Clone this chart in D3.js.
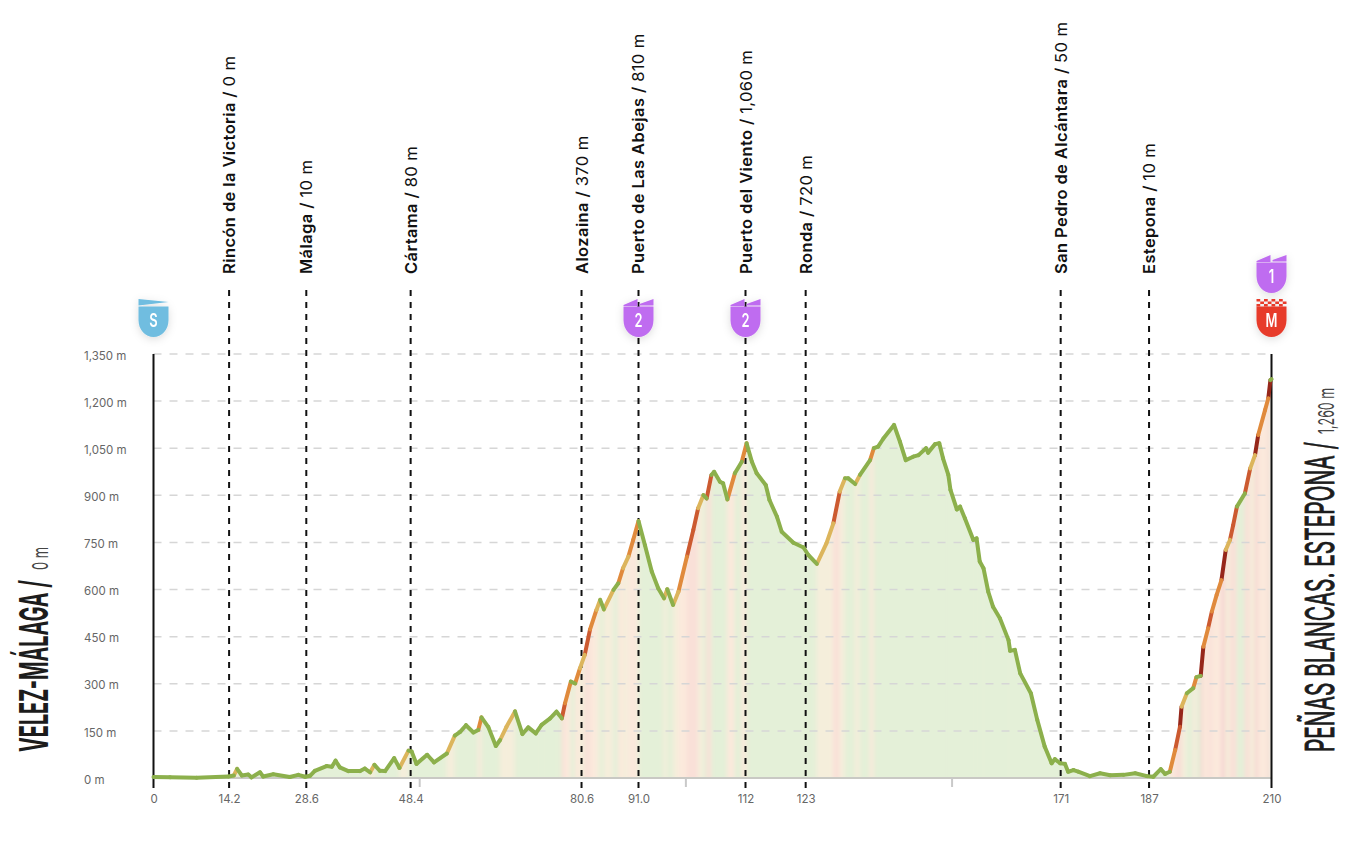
<!DOCTYPE html>
<html>
<head>
<meta charset="utf-8">
<script src="https://cdn.jsdelivr.net/npm/d3@7"></script>
<style>
  html, body { margin: 0; padding: 0; background: #fff; }
  svg { display: block; }
  text { font-family: Inter, sans-serif; }
</style>
</head>
<body>
<svg id="chart"></svg>
<script>
const kms = [
  0, 3.1, 8.1, 14.1, 15.1, 15.7, 16.6, 17.8, 18.4, 20.0,
  20.6, 22.5, 25.6, 27.2, 28.5, 29.4, 30.3, 32.5, 33.5, 34.2,
  35.0, 36.6, 38.8, 39.7, 40.7, 41.5, 42.5, 43.5, 45.2, 46.2,
  47.9, 48.5, 49.4, 51.4, 52.7, 55.1, 56.6, 57.6, 58.7, 60.1,
  61.0, 61.6, 62.9, 64.3, 65.1, 66.3, 67.9, 69.3, 70.4, 71.8,
  72.9, 74.5, 75.7, 76.7, 77.3, 78.4, 79.2, 80.1, 81.0, 82.0,
  83.2, 83.9, 84.6, 86.4, 87.3, 88.2, 89.2, 90.1, 91.1, 92.3,
  93.6, 94.8, 95.9, 96.5, 97.6, 98.6, 100.2, 101.4, 102.3, 103.3,
  103.9, 104.8, 105.3, 106.4, 107.0, 107.8, 109.2, 110.5, 111.4, 112.4,
  113.3, 115.0, 115.7, 117.1, 118.0, 120.2, 122.1, 123.0, 124.6, 126.4,
  127.7, 128.9, 129.9, 130.5, 131.8, 132.7, 134.6, 135.3, 136.1, 137.1,
  139.1, 140.2, 141.3, 142.7, 143.7, 145.1, 145.5, 146.8, 147.6, 148.3,
  149.3, 149.7, 150.9, 151.5, 152.4, 154.0, 154.6, 155.2, 155.9, 156.8,
  157.7, 159.0, 160.6, 160.9, 161.8, 162.8, 164.8, 166.0, 167.4, 168.7,
  169.3, 170.3, 171.2, 171.8, 172.8, 173.7, 175.9, 177.8, 179.7, 182.2,
  184.4, 186.6, 187.8, 189.2, 190.0, 190.9, 191.9, 192.8, 193.1, 194.1,
  195.3, 195.9, 196.7, 197.2, 198.1, 198.8, 199.7, 200.6, 201.4, 202.2,
  202.8, 203.5, 205.0, 206.0, 206.9, 207.5, 208.8, 209.4, 209.8, 210
]
const elevations = [
  3, 2, 1, 5, 8, 29, 8, 11, 2, 18,
  5, 12, 3, 10, 4, 7, 23, 38, 36, 55,
  34, 22, 22, 30, 18, 42, 23, 22, 63, 32,
  87, 84, 45, 74, 50, 78, 135, 147, 168, 145,
  153, 193, 162, 102, 121, 163, 212, 140, 161, 142,
  169, 190, 211, 190, 238, 307, 301, 349, 392, 473,
  535, 567, 537, 599, 620, 668, 705, 758, 818, 742,
  657, 604, 572, 601, 551, 593, 705, 790, 859, 901,
  890, 965, 975, 943, 938, 887, 970, 1007, 1066, 1007,
  970, 933, 885, 832, 784, 749, 734, 710, 682, 747,
  811, 912, 954, 954, 936, 965, 1012, 1050, 1055, 1081,
  1124, 1071, 1012, 1023, 1028, 1050, 1036, 1063, 1066, 1018,
  965, 917, 855, 864, 827, 758, 763, 689, 668, 593,
  545, 508, 439, 405, 408, 333, 270, 185, 100, 47,
  60, 47, 45, 20, 25, 20, 6, 15, 9, 10,
  15, 6, 4, 28, 13, 20, 89, 163, 227, 270,
  286, 321, 325, 418, 477, 530, 583, 630, 726, 758,
  805, 864, 906, 986, 1028, 1092, 1172, 1209, 1267, 1270
]
const elevationTicks = [0, 150, 300, 450, 600, 750, 900, 1050, 1200, 1350]
const waypointNames = ['Rincón de la Victoria', 'Málaga', 'Cártama', 'Alozaina', 'Puerto de Las Abejas', 'Puerto del Viento', 'Ronda', 'San Pedro de Alcántara', 'Estepona']
const waypointHeights = ['0 m', '10 m', '80 m', '370 m', '810 m', '1,060 m', '720 m', '50 m', '10 m']
const waypointKms = [14.2, 28.7, 48.3, 80.4, 91.1, 111.2, 122.5, 170.4, 187]
const distanceLabels = ['14.2', '28.6', '48.4', '80.6', '91.0', '112', '123', '171', '187']
const minorKms = [50, 100, 150]
const gradeSteps = [3, 5, 7, 10]
const lineColors = ['#8cb04c', '#dcb55c', '#e08a3c', '#cc5a30', '#96271a']
const fillColors = ['#e4f0d8', '#f5eedb', '#fbe9dc', '#f9e0d8', '#f6d6d2']

const width = 1356
const height = 846
const svg = d3.select('#chart').attr('width', width).attr('height', height)

const x = d3.scaleLinear().domain([0, 210]).range([153.5, 1271.5])
const y = d3.scaleLinear().domain([0, 1350]).range([778, 354])
const grade = d3.scaleThreshold().domain(gradeSteps).range(d3.range(5))

const points = kms.map((k, i) => ({ km: k, m: elevations[i] }))
const segments = d3.pairs(points).map(([a, b]) => ({
  a,
  b,
  level: grade((b.m - a.m) / (b.km - a.km) / 10)
}))

const defs = svg.append('defs')
const area = d3.area().x(d => x(d.km)).y0(y(0)).y1(d => y(d.m))
const line = d3.line().x(d => x(d.km)).y(d => y(d.m))

defs.append('clipPath').attr('id', 'under-profile').append('path').attr('d', area(points))
defs.append('filter').attr('id', 'soften').attr('x', '-2%').attr('width', '104%')
  .append('feGaussianBlur').attr('stdDeviation', '2 0')
const shadow = defs.append('filter').attr('id', 'badge-shadow')
  .attr('x', '-60%').attr('y', '-60%').attr('width', '220%').attr('height', '220%')
shadow.append('feDropShadow').attr('dx', 0).attr('dy', 2).attr('stdDeviation', 4)
  .attr('flood-color', '#000').attr('flood-opacity', 0.14)

// profile fill, one tinted strip per segment
svg.append('g').attr('clip-path', 'url(#under-profile)')
  .append('g').attr('filter', 'url(#soften)')
  .selectAll('rect')
  .data(segments)
  .join('rect')
  .attr('x', d => x(d.a.km) - 0.3)
  .attr('width', d => x(d.b.km) - x(d.a.km) + 0.6)
  .attr('y', y(1350))
  .attr('height', y(0) - y(1350))
  .attr('fill', d => fillColors[d.level])

// grid
svg.append('g')
  .selectAll('line')
  .data(elevationTicks.slice(1))
  .join('line')
  .attr('x1', x(0))
  .attr('x2', x(210))
  .attr('y1', d => y(d))
  .attr('y2', d => y(d))
  .attr('stroke', '#d6d6d6')
  .attr('stroke-width', 1.5)
  .attr('stroke-dasharray', '8 8')

// baseline and km marks
svg.append('line')
  .attr('x1', x(0)).attr('x2', x(210))
  .attr('y1', y(0)).attr('y2', y(0))
  .attr('stroke', '#c9c9c4').attr('stroke-width', 2)
svg.append('g')
  .selectAll('line')
  .data(minorKms)
  .join('line')
  .attr('x1', d => x(d)).attr('x2', d => x(d))
  .attr('y1', y(0)).attr('y2', y(0) + 9)
  .attr('stroke', '#c9c9c9').attr('stroke-width', 2)

// waypoints
const waypoints = svg.append('g')
  .selectAll('g')
  .data(waypointNames.map((name, i) => ({ name, height: waypointHeights[i], km: waypointKms[i] })))
  .join('g')
waypoints.append('line')
  .attr('x1', d => x(d.km)).attr('x2', d => x(d.km))
  .attr('y1', 290).attr('y2', 792)
  .attr('stroke', '#111').attr('stroke-width', 2)
  .attr('stroke-dasharray', '6 6')
const waypointText = waypoints.append('text')
  .attr('transform', d => `translate(${x(d.km) + 6},274) rotate(-90)`)
  .attr('font-size', 16.5)
  .attr('letter-spacing', 0.4)
  .attr('fill', '#111')
waypointText.append('tspan').attr('font-weight', 600).text(d => d.name + ' / ')
waypointText.append('tspan').attr('font-weight', 400).text(d => d.height)

// end lines
svg.append('g')
  .selectAll('line')
  .data([0, 210])
  .join('line')
  .attr('x1', d => x(d)).attr('x2', d => x(d))
  .attr('y1', y(1350)).attr('y2', 788)
  .attr('stroke', '#111').attr('stroke-width', 2)

// profile line, coloured by gradient, green drawn last
svg.append('g')
  .selectAll('path')
  .data(segments.slice().sort((p, q) => q.level - p.level))
  .join('path')
  .attr('d', d => line([d.a, d.b]))
  .attr('fill', 'none')
  .attr('stroke', d => lineColors[d.level])
  .attr('stroke-width', 4)
  .attr('stroke-linecap', 'round')

// axes
const yAxis = d3.axisLeft(y)
  .tickValues(elevationTicks)
  .tickSize(0)
  .tickFormat(d => d3.format(',')(d) + ' m')
const yGroup = svg.append('g').attr('transform', 'translate(84,1.5)').call(yAxis)
yGroup.select('.domain').remove()
yGroup.selectAll('text')
  .attr('x', 0)
  .attr('text-anchor', 'start')
  .attr('font-family', 'Inter')
  .attr('font-size', 11.5)
  .attr('fill', '#666')

const xLabels = new Map(waypointKms.map((k, i) => [k, distanceLabels[i]]))
xLabels.set(0, '0').set(210, '210')
const xAxis = d3.axisBottom(x)
  .tickValues([...xLabels.keys()])
  .tickSize(0)
  .tickFormat(d => xLabels.get(d))
const xGroup = svg.append('g').attr('transform', 'translate(0,792)').call(xAxis)
xGroup.select('.domain').remove()
xGroup.selectAll('text')
  .attr('font-family', 'Inter')
  .attr('font-size', 11.5)
  .attr('fill', '#666')

// start and finish titles, squeezed to a condensed look
function title (xPos, yBottom, parts) {
  const g = svg.append('g').attr('transform', `translate(${xPos},${yBottom}) rotate(-90)`)
  parts.forEach(p => {
    g.append('text')
      .attr('x', p.at)
      .attr('font-family', '"Liberation Sans Narrow", Roboto, sans-serif')
      .attr('font-size', p.size)
      .attr('font-weight', p.weight)
      .attr('fill', p.color)
      .attr('stroke', p.color)
      .attr('stroke-width', p.thicken)
      .attr('textLength', p.length)
      .attr('lengthAdjust', 'spacingAndGlyphs')
      .text(p.text)
  })
}
title(48, 752, [
  { text: 'VELEZ-MÁLAGA /', at: 0, length: 172, size: 39, weight: 700, color: '#1c1c1c', thicken: 0 },
  { text: '0 m', at: 182, length: 23, size: 22, weight: 400, color: '#444', thicken: 0 }
])
title(1334, 752, [
  { text: 'PEÑAS BLANCAS. ESTEPONA /', at: 0, length: 310, size: 39, weight: 400, color: '#1c1c1c', thicken: 0.9 },
  { text: '1,260 m', at: 318, length: 46, size: 22, weight: 400, color: '#444', thicken: 0 }
])

// badges
const shieldBody = 'M-15,7.5 L15,7.5 L15,21 C15,31 8,38 0,38 C-8,38 -15,31 -15,21 Z'
const badgeData = [
  { km: 0, top: 299, color: '#6fbde0', mark: 'S', head: 'flag' },
  { km: 91.1, top: 299, color: '#bf6cf0', mark: '2', head: 'peaks' },
  { km: 111.2, top: 299, color: '#bf6cf0', mark: '2', head: 'peaks' },
  { km: 210, top: 255, color: '#bf6cf0', mark: '1', head: 'peaks' },
  { km: 210, top: 299, color: '#e73a2c', mark: 'M', head: 'check' }
]
const badges = svg.append('g')
  .selectAll('g')
  .data(badgeData)
  .join('g')
  .attr('transform', d => `translate(${x(d.km)},${d.top})`)
  .attr('filter', 'url(#badge-shadow)')
badges.append('path').attr('d', shieldBody).attr('fill', d => d.color)
badges.filter(d => d.head === 'flag').append('path')
  .attr('d', 'M-15,0 L15,3 L-15,6.5 Z')
  .attr('fill', d => d.color)
badges.filter(d => d.head === 'peaks').append('path')
  .attr('d', 'M-15,7 L-15,6 L-1,0 L-1,7 Z M1,6.5 L1,5 L15,0 L15,6.5 Z')
  .attr('fill', d => d.color)
badges.filter(d => d.head === 'check').each(function (d) {
  const head = d3.select(this)
  d3.range(8).forEach(col => {
    d3.range(3).forEach(row => {
      if ((col + row) % 2 === 0) {
        head.append('rect')
          .attr('x', -15 + col * 3.75).attr('y', row * 2.5)
          .attr('width', 3.75).attr('height', 2.5)
          .attr('fill', d.color)
      }
    })
  })
})
badges.append('text')
  .attr('transform', 'translate(0,28) scale(0.68,1)')
  .attr('text-anchor', 'middle')
  .attr('font-size', 19)
  .attr('font-weight', 600)
  .attr('fill', '#fff')
  .text(d => d.mark)
</script>
</body>
</html>
